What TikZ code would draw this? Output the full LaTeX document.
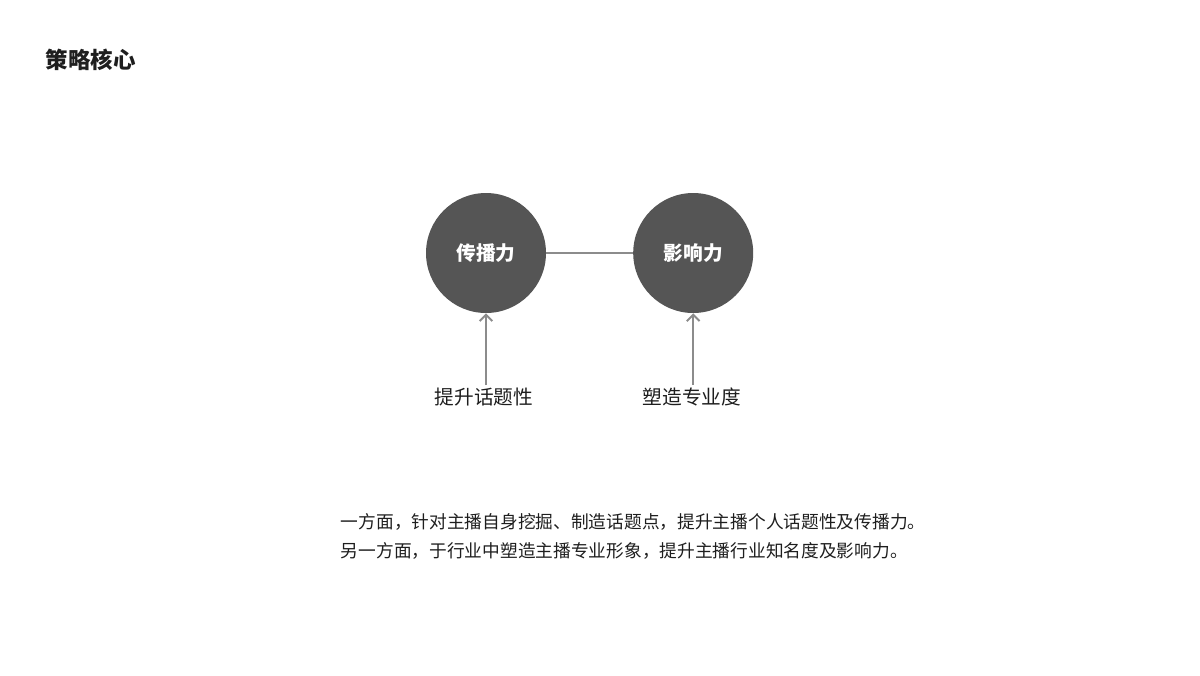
\documentclass[tikz,border=0pt]{standalone}
\usepackage{fontspec}
\setmainfont{Noto Sans CJK SC}
\usetikzlibrary{arrows.meta}
\definecolor{kreis}{HTML}{555555}
\definecolor{linie}{HTML}{8C8C8C}
\definecolor{schrift}{HTML}{1E1E1E}
\begin{document}
\begin{tikzpicture}[kern/.style={shape=circle,fill=kreis,minimum size=3cm,inner sep=0pt,text=white,font=\fontsize{14}{16}\selectfont\bfseries},
                    ziel/.style={text=schrift,font=\fontsize{14}{16}\selectfont},
                    pfeil/.style={draw=linie,line width=1.4pt,-{Straight Barb[length=1.6mm,width=3.2mm]}}
                    ]
    \useasboundingbox (0,0) rectangle (30,-16.875);
    %Titel
    \node [anchor=west,text=schrift,font=\fontsize{16}{18}\selectfont\bfseries] (titel) at (1.02,-1.5) {策略核心};
    %Kreise
    \node [kern] (verbreitung) at (12.15,-6.325) {传播力};
    \node [kern] (einfluss) at (17.33,-6.325) {影响力};
    \draw [draw=linie,line width=1.4pt] (verbreitung) -- (einfluss);
    %Massnahmen
    \node [ziel] (thema) at (12.1,-9.93) {提升话题性};
    \node [ziel] (profi) at (17.3,-9.93) {塑造专业度};
    \draw [pfeil] (thema.north -| verbreitung) ++(0,-0.05) -- (verbreitung.south);
    \draw [pfeil] (profi.north -| einfluss) ++(0,-0.05) -- (einfluss.south);
    %Erklaerung
    \node [anchor=west,align=left,text=schrift,font=\fontsize{12.6}{20.6}\selectfont] (text) at (8.4,-13.41)
        {一方面，针对主播自身挖掘、制造话题点，提升主播个人话题性及传播力。\\另一方面，于行业中塑造主播专业形象，提升主播行业知名度及影响力。};
\end{tikzpicture}
\end{document}
